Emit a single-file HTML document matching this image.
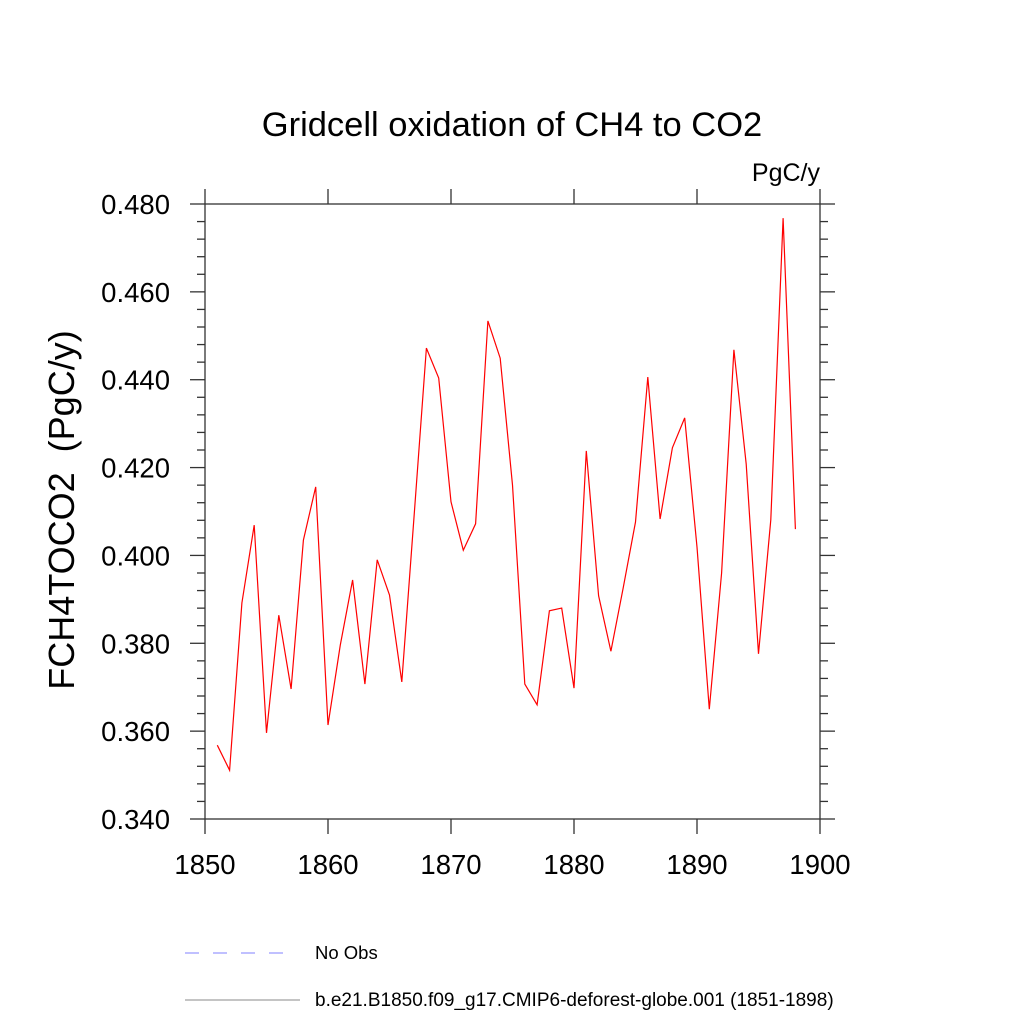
<!DOCTYPE html>
<html><head><meta charset="utf-8"><style>
body{margin:0;background:#fff}
svg{display:block;font-family:"Liberation Sans",sans-serif}
</style></head><body>
<svg id="chart" width="1024" height="1024" viewBox="0 0 1024 1024" xmlns="http://www.w3.org/2000/svg">
<rect width="1024" height="1024" fill="#fff"/>
<text x="512" y="136" font-size="34.5" text-anchor="middle">Gridcell oxidation of CH4 to CO2</text>
<text x="820" y="181" font-size="25" text-anchor="end">PgC/y</text>
<text transform="translate(74,510) rotate(-90)" font-size="36" text-anchor="middle">FCH4TOCO2&#160;&#160;(PgC/y)</text>
<g id="axes"></g>
<g id="series"></g>
<g>
<line x1="185" y1="953" x2="295" y2="953" stroke="#8080ff" stroke-width="1" stroke-dasharray="14,14"/>
<text x="315" y="959" font-size="18.5">No Obs</text>
<line x1="185" y1="1000" x2="300" y2="1000" stroke="#888" stroke-width="1"/>
<text x="315" y="1006" font-size="19">b.e21.B1850.f09_g17.CMIP6-deforest-globe.001 (1851-1898)</text>
</g>
</svg>
<script>
const years = [1851,1852,1853,1854,1855,1856,1857,1858,1859,1860,1861,1862,1863,1864,1865,1866,1867,1868,1869,1870,1871,1872,1873,1874,1875,1876,1877,1878,1879,1880,1881,1882,1883,1884,1885,1886,1887,1888,1889,1890,1891,1892,1893,1894,1895,1896,1897,1898];
const values = [0.3568,0.3511,0.3892,0.4069,0.3596,0.3864,0.3696,0.4035,0.4156,0.3614,0.3796,0.3944,0.3707,0.3990,0.3910,0.3712,0.4090,0.4472,0.4404,0.4122,0.4012,0.4072,0.4534,0.4449,0.4160,0.3707,0.3660,0.3874,0.3880,0.3698,0.4238,0.3908,0.3782,0.3926,0.4076,0.4406,0.4083,0.4245,0.4313,0.4019,0.3650,0.3960,0.4468,0.4208,0.3776,0.4081,0.4768,0.4060];
const yTicks = [0.340,0.360,0.380,0.400,0.420,0.440,0.460,0.480];
const xTicks = [1850,1860,1870,1880,1890,1900];
const L=205,R=820,T=204,B=819;
const X=v=>L+(v-1850)/50*(R-L);
const Y=v=>B-(v-0.34)/0.14*(B-T);
const NS="http://www.w3.org/2000/svg";
const axes=document.getElementById('axes');
function mk(tag,attrs,parent){const e=document.createElementNS(NS,tag);for(const k in attrs)e.setAttribute(k,attrs[k]);parent.appendChild(e);return e;}
const frame=mk('rect',{x:L,y:T,width:R-L,height:B-T,fill:'none',stroke:'#333','stroke-width':1.3},axes);


for(let v=0.340;v<=0.4801;v+=0.004){
  const y=Y(v);const major=Math.abs(Math.round(v*1000)%20)<1;
  const len=major?15:8;
  const t1=mk('line',{x1:L-len,y1:y,x2:L,y2:y,stroke:'#333','stroke-width':1.3},axes);
  
  
  const t2=mk('line',{x1:R,y1:y,x2:R+len,y2:y,stroke:'#333','stroke-width':1.3},axes);
  
  
}
yTicks.forEach(v=>{
  const t=mk('text',{x:170,y:Y(v)+10,'font-size':27.5,'text-anchor':'end'},axes);
  t.textContent=v.toFixed(3);
  
  
});
xTicks.forEach(v=>{
  const x=X(v);
  const a=mk('line',{x1:x,y1:B,x2:x,y2:B+15,stroke:'#333','stroke-width':1.3},axes);
  
  
  const b=mk('line',{x1:x,y1:T-15,x2:x,y2:T,stroke:'#333','stroke-width':1.3},axes);
  
  
  const t=mk('text',{x:x,y:874,'font-size':27.5,'text-anchor':'middle'},axes);
  t.textContent=v;
  
  
});
const pts=years.map((yr,i)=>X(yr).toFixed(1)+','+Y(values[i]).toFixed(1)).join(' ');
const line=mk('polyline',{points:pts,fill:'none',stroke:'#ff0000','stroke-width':1.2},document.getElementById('series'));


</script>
</body></html>
